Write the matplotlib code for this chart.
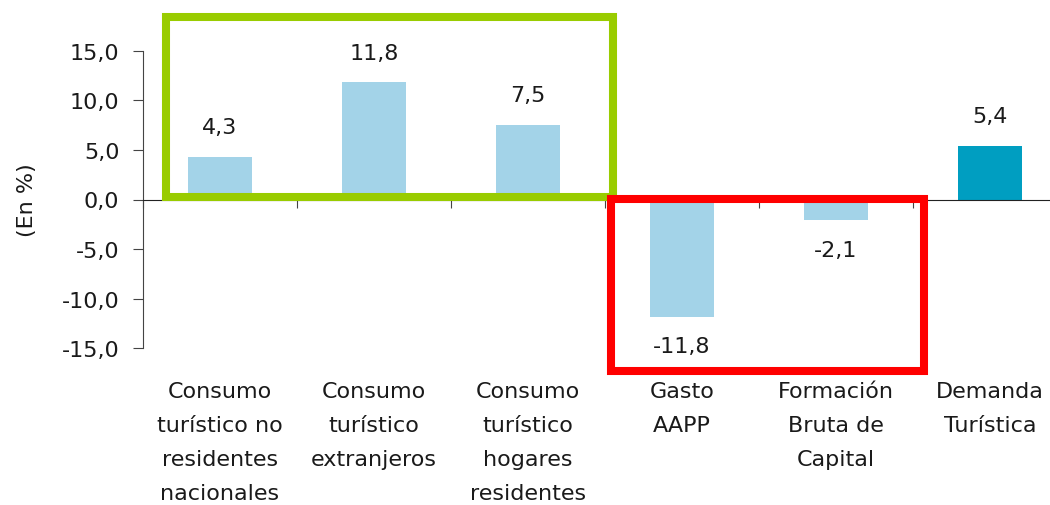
import numpy as np
import matplotlib.pyplot as plt
from matplotlib.patches import Rectangle

categorias = ['Consumo\nturístico no\nresidentes\nnacionales',
              'Consumo\nturístico\nextranjeros',
              'Consumo\nturístico\nhogares\nresidentes',
              'Gasto\nAAPP',
              'Formación\nBruta de\nCapital',
              'Demanda\nTurística']
valores = [4.3, 11.8, 7.5, -11.8, -2.1, 5.4]
colores = ['#A3D3E8', '#A3D3E8', '#A3D3E8', '#A3D3E8', '#A3D3E8', '#009EC1']
yticks = [-15, -10, -5, 0, 5, 10, 15]

plt.rcParams['font.family'] = ['DejaVu Sans']
txt = '#1a1a1a'

fig = plt.figure(figsize=(10.5, 5.06), dpi=100)
ax = fig.add_axes([143/1050, 1 - 349.3/506, 924/1050, 297.6/506])

x = np.arange(len(valores))
ax.bar(x, valores, width=0.41, color=colores, zorder=2)
ax.set_xlim(-0.5, 5.5)
ax.set_ylim(-15, 15)

# etiquetas de valor
for xi, v in zip(x, valores):
    off = 3.0 if v >= 0 else -3.0
    ax.text(xi, v + off, f'{v:.1f}'.replace('.', ','), ha='center', va='center',
            fontsize=16, color=txt)

# ejes
for s in ['top', 'right']:
    ax.spines[s].set_visible(False)
ax.spines['bottom'].set_position(('data', 0))
ax.spines['left'].set_color('#444444')
ax.spines['bottom'].set_color('#222222')
ax.set_yticks(yticks)
ax.set_yticklabels([f'{t:.1f}'.replace('.', ',') for t in yticks], fontsize=16, color=txt)
ax.tick_params(axis='y', length=7, direction='out', pad=10, color='#444444')
ax.set_xticks(np.arange(-0.5, 5.0, 1.0))
ax.set_xticklabels([])
ax.tick_params(axis='x', length=6, direction='out', color='#444444')

# etiquetas de categoria debajo del grafico
for xi, c in zip(x, categorias):
    ax.text(xi, -18.3, c, ha='center', va='top', fontsize=16, color=txt,
            linespacing=1.88, clip_on=False)

fig.text(27/1050, 1 - 200/506, '(En %)', rotation=90, ha='center', va='center',
         fontsize=16, color=txt)

# recuadros
ax.add_patch(Rectangle((-0.35, 0.23), 2.9, 18.2, fill=False, edgecolor='#99CC00',
                       linewidth=5.8, zorder=5, clip_on=False, joinstyle='miter'))
ax.add_patch(Rectangle((2.54, -17.25), 2.03, 17.3, fill=False, edgecolor='#FF0000',
                       linewidth=5.8, zorder=6, clip_on=False, joinstyle='miter'))

fig.savefig('out.png', dpi=100, facecolor='white')
